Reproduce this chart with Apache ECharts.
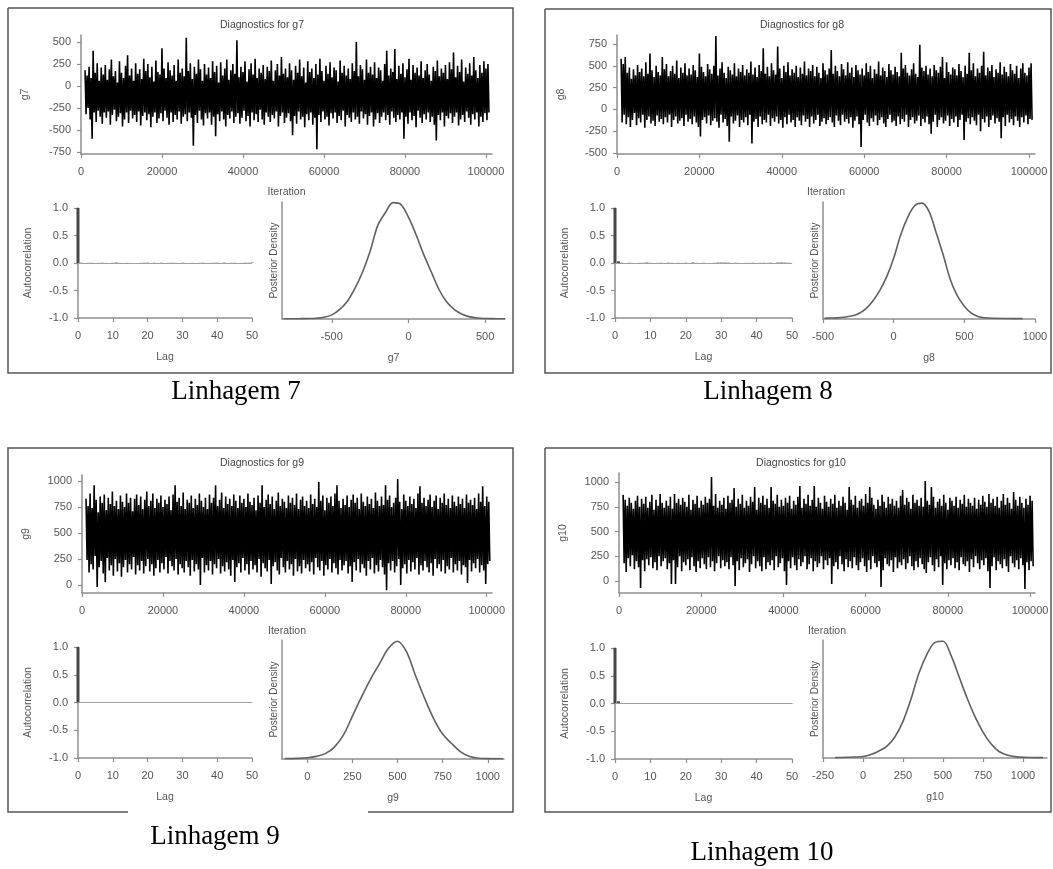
<!DOCTYPE html>
<html>
<head>
<meta charset="utf-8">
<title>Diagnostics g7-g10</title>
<style>
  html, body { margin: 0; padding: 0; background: #fff; }
  #chart { width: 1053px; height: 869px; }
</style>
</head>
<body>
<div id="chart"></div>
<script src="https://cdn.jsdelivr.net/npm/echarts@6/dist/echarts.min.js"></script>
<script>
/* MCMC diagnostics for g7..g10 — trace, autocorrelation and posterior density
   per parameter, four panels on one canvas. */
(function () {
  "use strict";

  /* ── data ─────────────────────────────────────────────────────────────── */
  const ITER_START = 1000;
  const ITER_STEP = 250;
  const ITER_TICKS = [0, 20000, 40000, 60000, 80000, 100000];

  const G7_TRACE = [
    180, -320, 120, -250, 220, -380, 90, -600, 400, -300, 150, -410, 260, -280, 60, -350, 210, -430, 130, -300,
    240, -360, 70, -290, 190, -440, 300, -330, 110, -270, 170, -400, 40, -350, 280, -310, 150, -460, 90, -380,
    230, -300, 350, -420, 120, -280, 200, -370, 60, -330, 260, -410, 140, -290, 190, -450, 80, -340, 310, -300,
    170, -390, 250, -320, 100, -470, 220, -350, 50, -300, 290, -420, 160, -370, 130, -310, 430, -400, 200, -280,
    90, -360, 270, -440, 180, -300, 120, -410, 240, -330, 60, -380, 300, -290, 150, -430, 200, -350, 110, -320,
    550, -400, 170, -300, 260, -360, 80, -680, 220, -330, 140, -420, 300, -280, 190, -380, 60, -450, 250, -310,
    130, -370, 210, -300, 90, -440, 280, -350, 160, -570, 230, -320, 40, -400, 270, -290, 120, -380, 200, -460,
    300, -330, 70, -370, 180, -290, 250, -420, 140, -350, 520, -310, 100, -430, 220, -360, 160, -280, 280, -400,
    50, -340, 190, -460, 260, -300, 130, -390, 310, -320, 90, -410, 200, -270, 150, -380, 240, -440, 80, -300,
    220, -350, 170, -410, 290, -330, 60, -370, 180, -290, 250, -460, 120, -340, 330, -300, 140, -420, 200, -360,
    100, -310, 260, -400, 180, -560, 70, -340, 230, -430, 150, -290, 300, -380, 110, -350, 210, -470, 40, -320,
    280, -390, 160, -300, 200, -440, 90, -360, 250, -720, 130, -330, 310, -410, 170, -290, 60, -380, 230, -350,
    140, -450, 270, -310, 100, -370, 210, -300, 180, -420, 50, -340, 290, -390, 150, -280, 230, -460, 120, -330,
    200, -360, 80, -410, 260, -300, 170, -380, 500, -350, 110, -430, 240, -290, 190, -370, 70, -320, 300, -440,
    150, -340, 220, -300, 130, -460, 270, -380, 90, -310, 210, -420, 180, -350, 60, -300, 250, -390, 400, -330,
    120, -440, 200, -290, 160, -360, 420, -410, 80, -330, 230, -380, 140, -300, 260, -600, 100, -350, 190, -430,
    310, -300, 70, -390, 240, -340, 150, -470, 210, -280, 120, -360, 280, -420, 90, -320, 180, -380, 250, -300,
    130, -410, 60, -350, 220, -440, 170, -620, 290, -330, 110, -390, 200, -300, 150, -460, 240, -340, 80, -370,
    270, -310, 190, -420, 380, -350, 100, -300, 230, -450, 160, -380, 300, -330, 50, -410, 210, -290, 140, -360,
    260, -440, 120, -320, 330, -380, 180, -300, 90, -460, 240, -350, 150, -410, 280, -310, 200, -390, 250, -300,
  ];
  const G8_TRACE = [
    580, -150, 520, -60, 600, -170, 420, -90, 480, -200, 350, -120, 460, -40, 390, -180, 510, -100, 430, -150,
    470, -60, 380, -210, 540, -120, 410, -80, 640, -160, 450, -130, 370, -190, 500, -70, 430, -140, 390, -110,
    600, -170, 460, -90, 520, -150, 380, -60, 440, -200, 500, -120, 410, -80, 560, -160, 360, -130, 480, -100,
    420, -190, 530, -60, 390, -140, 470, -110, 400, -170, 510, -80, 450, -150, 370, -200, 640, -310, 490, -120,
    430, -90, 380, -160, 520, -70, 460, -180, 410, -130, 500, -100, 840, -140, 390, -210, 470, -60, 540, -150,
    420, -110, 360, -190, 490, -370, 450, -80, 400, -160, 530, -130, 380, -70, 470, -200, 430, -120, 510, -150,
    390, -90, 460, -180, 420, -60, 550, -390, 400, -140, 480, -110, 370, -200, 510, -80, 440, -170, 700, -120,
    410, -150, 490, -60, 380, -190, 530, -100, 450, -140, 400, -80, 720, -160, 470, -120, 360, -210, 500, -90,
    430, -170, 540, -60, 390, -150, 460, -120, 420, -200, 500, -90, 370, -130, 480, -180, 410, -70, 550, -140,
    390, -110, 470, -200, 440, -80, 510, -160, 380, -120, 490, -60, 420, -190, 360, -140, 530, -100, 450, -170,
    400, -120, 470, -90, 680, -150, 410, -200, 500, -70, 440, -130, 380, -180, 520, -60, 460, -140, 390, -110,
    540, -160, 420, -90, 480, -210, 370, -130, 510, -80, 450, -170, 400, -430, 470, -120, 390, -60, 530, -150,
    430, -190, 500, -100, 360, -140, 460, -70, 410, -180, 550, -120, 390, -90, 480, -160, 440, -200, 370, -110,
    520, -60, 450, -150, 400, -130, 490, -190, 430, -80, 380, -170, 650, -110, 470, -140, 510, -60, 420, -200,
    390, -120, 460, -90, 530, -160, 410, -130, 370, -70, 740, -190, 480, -110, 440, -150, 500, -80, 400, -170,
    470, -280, 380, -140, 510, -60, 450, -200, 420, -120, 490, -90, 600, -160, 360, -130, 540, -70, 430, -190,
    400, -110, 480, -150, 460, -80, 390, -200, 520, -120, 440, -60, 370, -350, 500, -140, 410, -100, 650, -170,
    450, -90, 530, -130, 380, -180, 470, -60, 420, -250, 500, -110, 660, -150, 390, -80, 480, -200, 440, -120,
    510, -70, 370, -160, 460, -100, 420, -140, 540, -330, 400, -90, 490, -190, 430, -60, 380, -150, 520, -110,
    450, -180, 410, -80, 500, -130, 360, -200, 470, -90, 530, -150, 420, -70, 390, -170, 480, -110, 530, -120,
  ];
  const G9_TRACE = [
    830, 240, 760, 120, 880, 200, 740, 150, 960, 280, 820, -20, 700, 170, 850, 230, 790, 110, 870, 30,
    720, 260, 840, 140, 780, 190, 900, 90, 760, 250, 810, 130, 730, 210, 860, 80, 800, 170, 750, 240,
    880, 120, 790, 200, 840, 150, 710, 270, 830, 100, 870, 190, 770, 140, 850, 230, 730, 110, 820, 180,
    900, 250, 760, 130, 810, 200, 880, 90, 740, 160, 830, 240, 790, 120, 860, 210, 750, 150, 820, 270,
    780, 110, 850, 230, 720, 180, 870, 140, 960, 250, 800, 100, 840, 200, 760, 160, 890, 120, 730, 230,
    820, 170, 790, 90, 860, 240, 740, 130, 830, 200, 770, 150, 880, 0, 810, 260, 750, 120, 840, 190,
    730, 140, 870, 230, 790, 100, 840, 200, 960, 160, 760, 250, 820, 110, 890, 180, 740, 130, 850, 220,
    780, 150, 830, 90, 760, 240, 870, 30, 810, 170, 740, 210, 860, 120, 790, 260, 830, 140, 750, 200,
    880, 100, 800, 230, 770, 150, 840, 190, 720, 120, 860, 250, 790, 80, 960, 210, 750, 160, 820, 130,
    870, 240, 780, 10, 850, 180, 730, 220, 810, 140, 890, 100, 760, 260, 830, 170, 800, 120, 740, 230,
    860, 150, 790, 200, 840, 90, 770, 250, 880, 130, 730, 180, 820, 110, 850, 240, 760, 160, 810, 200,
    740, 130, 870, 220, 780, 100, 830, 260, 750, 170, 990, 140, 810, 230, 860, 90, 720, 190, 840, 150,
    790, 250, 850, 120, 760, 210, 880, 160, 960, 100, 810, 240, 740, 140, 830, 190, 770, 230, 860, 110,
    750, 180, 820, 30, 870, 220, 790, 140, 840, 250, 730, 120, 880, 200, 800, 160, 760, 90, 850, 230,
    780, 150, 830, 260, 740, 110, 890, 190, 810, 130, 760, 240, 850, 170, 770, 100, 960, -50, 820, 210,
    860, 140, 750, 230, 790, 120, 840, 180, 1020, 250, 800, 0, 730, 160, 870, 200, 810, 110, 760, 240,
    850, 130, 780, 220, 830, 150, 740, 260, 880, 100, 950, 190, 790, 140, 840, 230, 760, 170, 820, 120,
    870, 210, 750, 90, 810, 250, 860, 160, 730, 200, 840, 130, 790, 240, 880, 110, 770, 180, 830, 150,
    740, 260, 860, 120, 800, 200, 760, 140, 850, 230, 780, 100, 830, 190, 740, 170, 870, 20, 790, 240,
    820, 130, 770, 210, 840, 160, 730, 250, 880, 120, 800, 190, 950, 140, 760, 10, 850, 200, 800, 230,
  ];
  const G10_TRACE = [
    870, 180, 820, 90, 760, 230, 840, 150, 790, 260, 730, 120, 810, 200, 860, 140, 750, -70, 830, 210,
    780, 100, 850, 220, 740, 160, 800, 240, 870, 130, 720, 190, 820, 110, 760, 250, 880, 150, 790, 200,
    740, 230, 810, 120, 760, 180, 850, -30, 730, 210, 880, -30, 790, 140, 830, 250, 770, 100, 840, 190,
    800, 160, 750, 220, 870, 110, 720, 240, 820, 150, 780, 90, 860, 200, 740, 130, 810, 230, 770, 170,
    850, 120, 790, 240, 830, 140, 1050, 200, 760, 100, 880, 180, 740, 250, 810, 130, 770, 210, 840, 150,
    730, 190, 860, 120, 790, 240, 820, 160, 940, -50, 750, 200, 830, 110, 780, 230, 870, 140, 740, 180,
    810, 220, 760, 90, 850, 170, 800, 250, 950, 130, 720, 200, 840, 150, 790, 100, 860, 240, 770, 120,
    830, 190, 740, 160, 950, 210, 810, 110, 780, 250, 870, 140, 750, 180, 820, 230, 760, 100, 840, -40,
    790, 200, 860, 130, 730, 240, 810, 160, 770, 110, 850, 220, 960, 150, 740, 190, 830, 250, 780, 120,
    870, 170, 760, 230, 820, 100, 960, 200, 750, 140, 840, 180, 790, 250, 730, 120, 860, 210, 800, 160,
    750, 230, 830, -30, 780, 150, 870, 190, 740, 120, 810, 250, 760, 170, 850, 100, 790, 220, 720, 140,
    950, 200, 820, 130, 770, 240, 860, 160, 740, 110, 810, 190, 830, 230, 760, 150, 880, 90, 790, 210,
    950, 120, 840, 250, 770, 180, 730, 140, 820, 200, 760, -60, 870, 110, 800, 230, 740, 170, 850, 150,
    780, 210, 830, 90, 760, 240, 810, 130, 740, 190, 860, 160, 920, 220, 770, 120, 840, 180, 800, 250,
    730, 150, 870, 110, 790, 200, 820, 140, 760, 230, 840, 170, 750, 120, 1010, 80, 810, 190, 770, 240,
    950, 160, 850, 100, 740, 220, 800, 140, 830, 250, 760, -40, 870, 180, 790, 120, 720, 210, 840, 160,
    810, 230, 760, 130, 850, 190, 740, 110, 820, 240, 780, 170, 870, 150, 750, 200, 830, 90, 790, 220,
    760, 140, 840, 250, 730, 180, 820, 120, 770, 210, 860, 160, 800, 230, 750, 100, 880, -70, 790, 150,
    830, 240, 760, 110, 850, 200, 740, 170, 810, 130, 880, 220, 770, 150, 840, 90, 790, 250, 730, 180,
    900, 140, 820, 210, 760, 120, 850, 230, 790, 160, 740, -80, 830, 190, 770, 110, 860, 200, 810, 150,
  ];

  // autocorrelation, lags 0..50
  const G7_ACF = [1,
    0.004, -0.003, 0.002, 0.003, -0.004, 0.002, 0.003, 0.001, -0.002, 0.003,
    0.006, 0.002, -0.003, 0.002, 0.001, -0.004, -0.008, 0.002, 0.003, 0.004,
    -0.002, 0.003, 0.001, 0.004, -0.003, 0.002, 0.003, 0.002, -0.002, 0.004,
    0.001, -0.003, 0.002, -0.004, 0.002, 0.003, -0.002, 0.001, 0.003, 0.004,
    0.001, 0.005, -0.003, 0.002, 0.003, -0.002, 0.001, 0.004, 0.003, 0.007];
  const G8_ACF = [1,
    0.03, 0.004, -0.002, 0.003, 0.001, -0.003, 0.002, 0.003, 0.008, 0.002,
    -0.002, 0.001, 0.003, -0.004, 0.004, 0.003, -0.002, 0.002, 0.001, 0.003,
    -0.003, 0.008, 0.002, -0.002, 0.003, -0.009, -0.006, 0.002, 0.006, 0.007,
    0.007, 0.005, -0.002, 0.003, 0.001, -0.003, 0.002, 0.001, 0.003, -0.002,
    0.002, 0.003, 0.001, 0.004, -0.002, 0.007, 0.008, 0.006, 0.003, 0.002];
  const G9_ACF = [1,
    0.006, -0.003, 0.002, 0.004, -0.002, 0.006, 0.002, -0.003, 0.004, 0.002,
    0.003, 0.006, -0.002, 0.003, 0.002, -0.003, 0.004, 0.002, 0.003, -0.002,
    0.004, 0.003, -0.002, 0.002, 0.004, 0.006, 0.002, 0.006, -0.003, 0.006,
    0.003, 0.006, 0.002, 0.004, -0.002, 0.003, 0.002, 0.004, 0.002, 0.006,
    0.004, 0.005, 0.003, 0.006, 0.004, 0.003, 0.005, 0.002, 0.006, 0.003];
  const G10_ACF = [1,
    0.04, 0.004, -0.002, 0.003, 0.006, 0.005, -0.002, 0.003, 0.001, 0.002,
    -0.002, 0.004, 0.006, 0.005, -0.002, 0.003, 0.001, 0.002, 0.006, -0.002,
    0.003, 0.002, 0.001, 0.006, -0.002, 0.003, 0.002, 0.001, 0.004, 0.003,
    -0.002, 0.002, 0.003, 0.001, 0.006, 0.006, 0.002, -0.002, 0.003, 0.002,
    0.008, 0.002, 0.003, -0.002, 0.002, 0.003, 0.004, 0.006, 0.006, 0.005];

  // posterior density (relative height)
  const G7_DENS_X = [-815, -750, -700, -650, -600, -550, -500, -450, -400, -350, -300, -250, -200, -150, -100, -50,
    0, 50, 100, 150, 200, 250, 300, 350, 400, 450, 500, 550, 630];
  const G7_DENS_Y = [0.002, 0.002, 0.003, 0.004, 0.007, 0.015, 0.035, 0.08, 0.15, 0.26, 0.40, 0.58, 0.80, 0.91, 0.995, 0.98,
    0.87, 0.72, 0.55, 0.40, 0.25, 0.145, 0.08, 0.04, 0.018, 0.008, 0.004, 0.003, 0.002];
  const G8_DENS_X = [-490, -450, -400, -350, -300, -250, -200, -150, -100, -50, 0, 50, 100, 150, 200, 250, 300,
    350, 400, 450, 500, 550, 600, 650, 700, 800, 913];
  const G8_DENS_Y = [0.006, 0.008, 0.01, 0.015, 0.025, 0.045, 0.085, 0.15, 0.24, 0.36, 0.52, 0.72, 0.87, 0.97, 0.99, 0.92, 0.74,
    0.55, 0.34, 0.2, 0.11, 0.05, 0.02, 0.01, 0.006, 0.004, 0.003];
  const G9_DENS_X = [-125, -50, 0, 50, 100, 150, 200, 250, 300, 350, 400, 450, 500, 550, 600, 650, 700, 750, 800,
    850, 900, 950, 1000, 1085];
  const G9_DENS_Y = [0.003, 0.005, 0.01, 0.022, 0.045, 0.1, 0.2, 0.36, 0.52, 0.67, 0.8, 0.93, 0.99, 0.9, 0.7, 0.51, 0.34, 0.21, 0.13,
    0.06, 0.02, 0.006, 0.003, 0.002];
  const G10_DENS_X = [-175, -100, -50, 0, 50, 100, 150, 200, 250, 300, 350, 400, 450, 500, 550, 600, 650, 700, 750,
    800, 850, 900, 950, 1000, 1050, 1125];
  const G10_DENS_Y = [0.003, 0.006, 0.008, 0.012, 0.03, 0.06, 0.1, 0.18, 0.31, 0.5, 0.72, 0.88, 0.98, 0.99, 0.87, 0.69, 0.51, 0.35, 0.22,
    0.12, 0.055, 0.025, 0.012, 0.006, 0.004, 0.003];

  /* ── style ────────────────────────────────────────────────────────────── */
  const INK = "#000";
  const AXIS_C = "#8e8e8e";
  const LABEL_C = "#555";
  const CURVE_C = "#606060";
  const FRAME_C = "#555";
  const SANS = "'Liberation Sans', Arial, sans-serif";
  const SERIF = "'Liberation Serif', 'Times New Roman', serif";

  /* ── layout (pixels) ──────────────────────────────────────────────────── */
  const PANELS = [
    { name: "g7", caption: "Linhagem 7", trace: G7_TRACE, acf: G7_ACF, dx: G7_DENS_X, dy: G7_DENS_Y,
      frame: [[8, 8], [513, 8], [513, 373], [8, 373], [8, 8]],
      title: [262, 25], captionAt: [236, 392],
      traceGrid: { left: 81, top: 35, width: 411, height: 119 }, traceY: [-773, 580], traceTicks: [-750, -500, -250, 0, 250, 500], traceX: 101500,
      acfGrid: { left: 78, top: 208, width: 174, height: 110 },
      densGrid: { left: 282, top: 202, width: 223, height: 117 }, densX: [-825, 630], densTicks: [-500, 0, 500] },
    { name: "g8", caption: "Linhagem 8", trace: G8_TRACE, acf: G8_ACF, dx: G8_DENS_X, dy: G8_DENS_Y,
      frame: [[545, 9], [1051, 9], [1051, 373], [545, 373], [545, 9]],
      title: [802, 25], captionAt: [768, 392],
      traceGrid: { left: 617, top: 35, width: 418, height: 119 }, traceY: [-511, 853], traceTicks: [-500, -250, 0, 250, 500, 750], traceX: 101460,
      acfGrid: { left: 615, top: 208, width: 177, height: 110 },
      densGrid: { left: 823, top: 202, width: 212, height: 117 }, densX: [-500, 1000], densTicks: [-500, 0, 500, 1000] },
    { name: "g9", caption: "Linhagem 9", trace: G9_TRACE, acf: G9_ACF, dx: G9_DENS_X, dy: G9_DENS_Y,
      frame: [[128, 812], [8, 812], [8, 448], [513, 448], [513, 812], [368, 812]],
      title: [262, 463], captionAt: [215, 837],
      traceGrid: { left: 82, top: 475, width: 410, height: 118 }, traceY: [-77, 1058], traceTicks: [0, 250, 500, 750, 1000], traceX: 101300,
      acfGrid: { left: 78, top: 647, width: 174, height: 111 },
      densGrid: { left: 282, top: 640, width: 222, height: 119 }, densX: [-140, 1090], densTicks: [0, 250, 500, 750, 1000] },
    { name: "g10", caption: "Linhagem 10", trace: G10_TRACE, acf: G10_ACF, dx: G10_DENS_X, dy: G10_DENS_Y,
      frame: [[545, 448], [1051, 448], [1051, 812], [545, 812], [545, 448]],
      title: [801, 463], captionAt: [762, 853],
      traceGrid: { left: 619, top: 473, width: 416, height: 120 }, traceY: [-121, 1091], traceTicks: [0, 250, 500, 750, 1000], traceX: 101200,
      acfGrid: { left: 615, top: 648, width: 177, height: 111 },
      densGrid: { left: 823, top: 640, width: 224, height: 118 }, densX: [-250, 1150], densTicks: [-250, 0, 250, 500, 750, 1000] },
  ];

  const LINE = { show: true, onZero: false, lineStyle: { color: AXIS_C, width: 1.5 } };
  const TICK = { show: true, length: 4, lineStyle: { color: AXIS_C, width: 1.2 } };
  const LABEL = { color: LABEL_C, fontFamily: SANS, fontSize: 11, formatter: (v) => String(v) };
  const NAME = { color: LABEL_C, fontFamily: SANS, fontSize: 10.5 };

  const grid = [], xAxis = [], yAxis = [], series = [], graphic = [];

  function addGrid(g) {
    grid.push(Object.assign({ containLabel: false }, g));
    return grid.length - 1;
  }

  PANELS.forEach((p) => {
    /* trace */
    let gi = addGrid(p.traceGrid);
    xAxis.push({ gridIndex: gi, type: "value", min: 0, max: p.traceX,
      name: "Iteration", nameLocation: "middle", nameGap: 33, nameTextStyle: NAME,
      axisLine: LINE, axisTick: { ...TICK, customValues: ITER_TICKS },
      axisLabel: { ...LABEL, margin: 12, customValues: ITER_TICKS }, splitLine: { show: false } });
    yAxis.push({ gridIndex: gi, type: "value", min: p.traceY[0], max: p.traceY[1],
      name: p.name, nameLocation: "middle", nameGap: 50, nameTextStyle: NAME,
      axisLine: LINE, axisTick: { ...TICK, customValues: p.traceTicks },
      axisLabel: { ...LABEL, margin: 10, customValues: p.traceTicks }, splitLine: { show: false } });
    series.push({ type: "line", xAxisIndex: gi, yAxisIndex: gi, showSymbol: false, animation: false,
      silent: true, lineStyle: { color: INK, width: 1.6 },
      data: p.trace.map((v, i) => [ITER_START + i * ITER_STEP, v]) });

    /* autocorrelation */
    gi = addGrid(p.acfGrid);
    xAxis.push({ gridIndex: gi, type: "value", min: 0, max: 50, interval: 10,
      name: "Lag", nameLocation: "middle", nameGap: 34, nameTextStyle: NAME,
      axisLine: LINE, axisTick: TICK, axisLabel: { ...LABEL, margin: 12 }, splitLine: { show: false } });
    yAxis.push({ gridIndex: gi, type: "value", min: -1, max: 1, interval: 0.5,
      name: "Autocorrelation", nameLocation: "middle", nameGap: 44, nameTextStyle: NAME,
      axisLine: LINE, axisTick: TICK,
      axisLabel: { ...LABEL, margin: 10, formatter: (v) => v.toFixed(1) }, splitLine: { show: false } });
    series.push({ type: "bar", xAxisIndex: gi, yAxisIndex: gi, barWidth: 3, animation: false, silent: true,
      itemStyle: { color: "#474747" },
      data: p.acf.map((v, lag) => [lag, v]),
      markLine: { silent: true, symbol: "none", label: { show: false },
        lineStyle: { color: "#a0a0a0", width: 1, type: "solid" }, data: [{ yAxis: 0 }] } });

    /* posterior density */
    gi = addGrid(p.densGrid);
    xAxis.push({ gridIndex: gi, type: "value", min: p.densX[0], max: p.densX[1],
      name: p.name, nameLocation: "middle", nameGap: 34, nameTextStyle: NAME,
      axisLine: LINE, axisTick: { ...TICK, customValues: p.densTicks },
      axisLabel: { ...LABEL, margin: 12, customValues: p.densTicks }, splitLine: { show: false } });
    yAxis.push({ gridIndex: gi, type: "value", min: 0, max: 1,
      name: "Posterior Density", nameLocation: "middle", nameGap: 3, nameTextStyle: { ...NAME, fontSize: 10 },
      axisLine: LINE, axisTick: { show: false }, axisLabel: { show: false }, splitLine: { show: false } });
    series.push({ type: "line", xAxisIndex: gi, yAxisIndex: gi, showSymbol: false, smooth: 0.35,
      animation: false, silent: true, lineStyle: { color: CURVE_C, width: 1.6 },
      data: p.dx.map((x, i) => [x, p.dy[i]]) });

    /* frame, title, caption */
    graphic.push({ type: "polyline", silent: true, shape: { points: p.frame },
      style: { stroke: FRAME_C, lineWidth: 1.5, fill: null } });
    graphic.push({ type: "text", x: p.title[0], y: p.title[1], silent: true,
      style: { text: "Diagnostics for " + p.name, fill: "#444", font: "10.5px " + SANS,
        align: "center", verticalAlign: "middle", textAlign: "center", textVerticalAlign: "middle" } });
    graphic.push({ type: "text", x: p.captionAt[0], y: p.captionAt[1], silent: true,
      style: { text: p.caption, fill: "#000", font: "27px " + SERIF,
        align: "center", verticalAlign: "middle", textAlign: "center", textVerticalAlign: "middle" } });
  });

  const chart = echarts.init(document.getElementById("chart"), null, { renderer: "canvas" });
  chart.setOption({
    backgroundColor: "#fff",
    animation: false,
    grid, xAxis, yAxis, series,
    graphic: { elements: graphic },
  });
})();
</script>
</body>
</html>
